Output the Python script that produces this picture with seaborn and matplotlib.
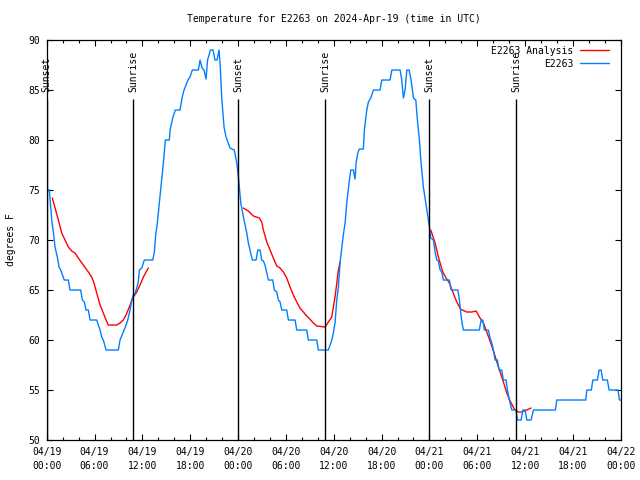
import pandas as pd
import numpy as np
import matplotlib
matplotlib.use('Agg')
import matplotlib.pyplot as plt
import matplotlib.dates as mdates
import seaborn as sns


start = pd.Timestamp('2024-04-19 00:00')

# station readings (hours after 04/19 00:00 UTC, deg F)
blue_hours = [0.0, 0.33, 0.63, 0.83, 1.04, 1.33, 1.54, 1.76, 2.2, 2.71,
              2.92, 4.26, 4.47, 4.72, 4.93, 5.22, 5.43, 6.27, 6.47, 6.69,
              6.9, 7.1, 7.44, 8.98, 9.19, 9.61, 9.95, 10.16, 10.45, 10.66,
              10.86, 11.08, 11.29, 11.49, 11.62, 11.92, 12.24, 13.3, 13.5, 13.67,
              13.87, 14.12, 14.63, 14.88, 15.38, 15.47, 15.8, 16.13, 16.72, 16.97,
              17.22, 17.47, 17.72, 17.97, 18.26, 19.02, 19.23, 19.48, 19.73, 19.98,
              20.17, 20.36, 20.52, 20.86, 21.11, 21.36, 21.61, 21.74, 21.95, 22.24,
              22.49, 22.99, 23.53, 23.83, 24.02, 24.34, 24.75, 25.09, 25.29, 25.59,
              25.79, 26.26, 26.47, 26.76, 26.97, 27.17, 27.38, 27.6, 27.8, 28.35,
              28.55, 28.85, 29.05, 29.27, 29.48, 30.1, 30.31, 31.15, 31.36, 32.61,
              32.81, 33.87, 34.07, 35.32, 35.54, 35.75, 35.95, 36.16, 36.38, 36.58,
              36.79, 37.0, 37.2, 37.42, 37.63, 37.92, 38.13, 38.46, 38.67, 38.8,
              39.01, 39.21, 39.71, 39.84, 40.14, 40.34, 40.64, 40.97, 41.81, 42.02,
              43.06, 43.28, 44.32, 44.53, 44.73, 44.95, 45.16, 45.45, 45.7, 45.99,
              46.29, 46.49, 46.74, 46.95, 47.24, 47.54, 47.87, 48.0, 48.17, 48.5,
              48.71, 48.92, 49.12, 49.34, 49.55, 49.75, 50.5, 50.72, 51.56, 51.76,
              51.93, 52.09, 52.26, 54.26, 54.48, 54.69, 54.89, 55.39, 55.61, 55.82,
              56.02, 56.23, 56.52, 56.73, 57.07, 57.27, 57.61, 57.78, 58.03, 58.33,
              58.87, 59.03, 59.5, 59.71, 60.0, 60.21, 60.75, 61.04, 63.8, 63.97,
              67.61, 67.74, 68.31, 68.49, 69.07, 69.28, 69.53, 69.74, 70.32, 70.53,
              71.66, 71.83, 72.0]
blue_temps = [75, 75, 72, 70.8, 69.3, 68.3, 67.3, 67, 66, 66,
              65, 65, 64, 63.8, 63, 63, 62, 62, 61.5, 61,
              60.3, 60, 59, 59, 60, 60.8, 61.5, 62, 63, 64,
              64.5, 64.7, 65.2, 65.8, 67, 67.2, 68, 68, 68.8, 70.5,
              71.7, 73.7, 77.7, 80, 80, 81, 82.2, 83, 83, 84.2,
              85, 85.5, 86, 86.3, 87, 87, 88, 87.2, 87, 86.1,
              88, 88.5, 89, 89, 88, 88, 89, 87.7, 84.2, 81.3,
              80.3, 79.2, 79, 77.7, 76.5, 73.7, 72, 70.7, 69.7, 68.7,
              68, 68, 69, 69, 68, 67.9, 67.5, 66.7, 66, 66,
              65, 64.8, 64, 63.8, 63, 63, 62, 62, 61, 61,
              60, 60, 59, 59, 59.5, 60, 60.7, 61.7, 64, 65.3,
              67.7, 69.2, 70.5, 71.7, 73.7, 75.7, 77, 77, 76.1, 77.7,
              78.7, 79.1, 79.1, 81, 83, 83.8, 84.2, 85, 85, 86,
              86, 87, 87, 86, 84.2, 85, 87, 87, 86, 84.2,
              84, 82, 80, 77.7, 75.3, 73.7, 72, 71.3, 70.2, 70,
              68.8, 68, 67.9, 67, 66.8, 66, 66, 65, 65, 64,
              62.7, 61.7, 61, 61, 62, 62, 61, 61, 60.2, 59.7,
              59, 58, 58, 57, 57, 56, 56, 55, 54, 53,
              53, 52, 52, 53, 53, 52, 52, 53, 53, 54,
              54, 55, 55, 56, 56, 57, 57, 56, 56, 55,
              55, 54, 54]

# analysis runs, one per day
red_hours = [
    [0.7, 1.46, 1.88, 2.3, 2.71, 3.14, 3.55, 3.96, 4.59, 5.22, 5.64, 5.93,
     6.27, 6.69, 7.1, 7.44, 7.73, 8.78, 9.19, 9.61, 9.95, 10.36, 10.79,
     11.29, 11.7, 12.12, 12.74],
    [24.66, 25.29, 25.92, 26.67, 26.97, 27.17, 27.6, 28.01, 28.42, 28.85,
     29.27, 29.68, 30.1, 30.52, 30.93, 31.36, 31.77, 32.19, 32.61, 33.03,
     33.44, 33.87, 34.91, 35.32, 35.75, 35.95, 36.16, 36.38, 36.58, 36.79],
    [48.17, 48.71, 48.92, 49.12, 49.34, 49.67, 50.09, 50.5, 50.93, 51.43,
     51.93, 52.68, 53.31, 53.85, 54.35, 54.77, 55.19, 55.69, 56.11, 56.65,
     57.2, 57.7, 58.12, 58.66, 59.16, 59.58, 60.21, 60.75],
]
red_temps = [
    [74.2, 72, 70.7, 70, 69.3, 68.9, 68.7, 68.2, 67.5, 66.8, 66.3, 65.7,
     64.7, 63.5, 62.7, 62, 61.5, 61.5, 61.7, 62, 62.5, 63.3, 64.2,
     64.8, 65.5, 66.3, 67.2],
    [73.2, 72.9, 72.4, 72.2, 71.8, 71, 69.8, 69, 68.2, 67.4,
     67.2, 66.8, 66.2, 65.3, 64.5, 63.8, 63.2, 62.8, 62.4, 62.07,
     61.7, 61.4, 61.3, 61.8, 62.3, 63.3, 64.3, 65.7, 67, 67.8],
    [71, 69.7, 69, 68.3, 67.7, 66.8, 66.2, 65.7, 64.8, 63.8,
     63.07, 62.8, 62.8, 62.9, 62.2, 61.7, 60.8, 59.7, 58.7, 57.3,
     56, 54.7, 53.9, 53.07, 52.8, 52.8, 53, 53.2],
]

sun_hours = [0.0, 10.86, 24.02, 34.95, 47.99, 58.9]
sun_labels = ['Sunset', 'Sunrise', 'Sunset', 'Sunrise', 'Sunset', 'Sunrise']


def to_time(hours):
    return start + pd.to_timedelta(hours, unit='h')


sns.set_style('ticks')
plt.rcParams['font.family'] = ['DejaVu Sans Mono']
plt.rcParams['font.size'] = 7
for key in ['text.color', 'axes.labelcolor', 'xtick.color', 'ytick.color']:
    plt.rcParams[key] = 'black'

fig = plt.figure(figsize=(6.4, 4.8), dpi=100)
ax = fig.add_axes([0.073, 0.0833, 0.897, 0.8333])

for i in range(len(red_hours)):
    df = pd.DataFrame({'time': to_time(red_hours[i]), 'temp': red_temps[i]})
    sns.lineplot(data=df, x='time', y='temp', color='#ff0000', lw=1,
                 estimator=None, ax=ax,
                 label='E2263 Analysis' if i == 0 else None)

blue = pd.DataFrame({'time': to_time(blue_hours), 'temp': blue_temps})
sns.lineplot(data=blue, x='time', y='temp', color='#0080ff', lw=1,
             estimator=None, ax=ax, label='E2263')

# sunrise / sunset markers
for t, lbl in zip(to_time(sun_hours), sun_labels):
    ax.vlines(t, 50, 84.1, color='black', lw=1)
    ax.text(t, 84.8, lbl, rotation=90, ha='center', va='bottom', fontsize=7)

ax.set_xlim(start, start + pd.Timedelta(hours=72))
ax.set_ylim(50, 90)
ax.set_yticks(range(50, 91, 5))
ax.xaxis.set_major_locator(mdates.HourLocator(byhour=[0, 6, 12, 18]))
ax.xaxis.set_minor_locator(mdates.HourLocator(byhour=range(0, 24, 2)))
ax.xaxis.set_major_formatter(mdates.DateFormatter('%m/%d\n%H:%M'))
ax.set_xlabel('')
ax.set_ylabel('')

ax.tick_params(which='both', direction='in', top=True, right=True,
               color='black', width=0.8)
ax.tick_params(which='major', length=4.5, labelsize=7, pad=5)
ax.tick_params(which='minor', length=2.5)
for s in ax.spines.values():
    s.set_color('black')
    s.set_linewidth(0.9)

ax.legend(loc='upper right', bbox_to_anchor=(0.99, 1.0), markerfirst=False,
          frameon=False, fontsize=7, handlelength=3.0, handletextpad=0.7,
          labelspacing=0.3, borderaxespad=0.3, borderpad=0.3)

fig.text(0.521, 1 - 19 / 480, 'Temperature for E2263 on 2024-Apr-19 (time in UTC)',
         ha='center', va='center', fontsize=7)
fig.text(11 / 640, 0.5, 'degrees F', rotation=90, ha='center', va='center',
         fontsize=7)

fig.canvas.draw()
for lbl in ax.get_xticklabels():
    lbl.set_linespacing(1.45)

fig.savefig('out.png', dpi=100)
